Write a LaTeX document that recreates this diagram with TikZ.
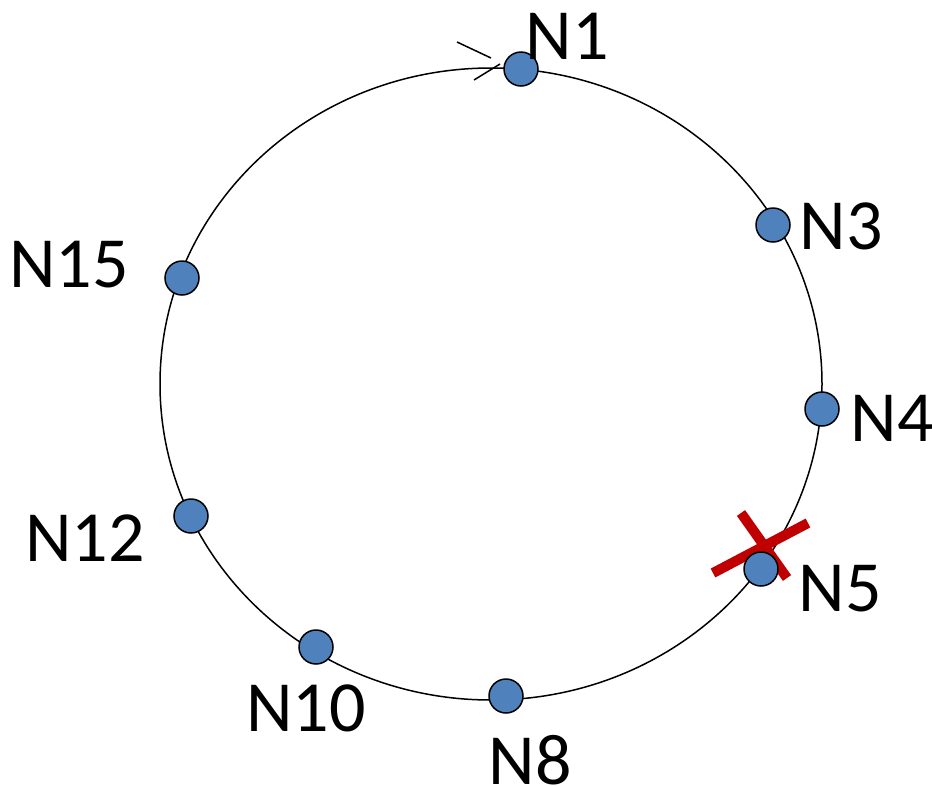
\documentclass[tikz,border=0pt]{standalone}
\usepackage{fontspec}
\setmainfont{Carlito}
\begin{document}
\begin{tikzpicture}[x=1pt,y=-1pt,
  ringnode/.style={circle,draw=black,line width=1.5pt,fill={rgb,255:red,79;green,129;blue,189},minimum size=34pt,inner sep=0pt},
  lbl/.style={font=\fontsize{72}{78}\selectfont,inner sep=0pt},
  cross/.style={draw={rgb,255:red,192;green,0;blue,0},line width=10pt}]
\useasboundingbox (0,0) rectangle (932,785);
\draw[line width=1.5pt] (491,384) ellipse [x radius=331, y radius=316];
% arrowhead on ring
\coordinate (tip) at (500,64);
\draw[line width=1.5pt] (457,42) -- (491,58);
\draw[line width=1.5pt] (474,80) -- (tip);
% red cross
\draw[cross] (741,513) -- (787,578);
\draw[cross] (713,573) -- (808,523);
% nodes
\node[ringnode] (n1) at (521,69) {};
\node[ringnode] (n3) at (773,225) {};
\node[ringnode] (n4) at (822,409) {};
\node[ringnode] (n5) at (761,569) {};
\node[ringnode] (n8) at (506,696) {};
\node[ringnode] (n10) at (316,647) {};
\node[ringnode] (n12) at (191,516) {};
\node[ringnode] (n15) at (182,278) {};
% labels
\node[lbl] (l1) at (567,36) {N1};
\node[lbl] (l3) at (841,226) {N3};
\node[lbl] (l4) at (892,418) {N4};
\node[lbl] (l5) at (840,589) {N5};
\node[lbl] (l8) at (530,760) {N8};
\node[lbl] (l10) at (306,708) {N10};
\node[lbl] (l12) at (85,538) {N12};
\node[lbl] (l15) at (69,265) {N15};
\end{tikzpicture}
\end{document}
